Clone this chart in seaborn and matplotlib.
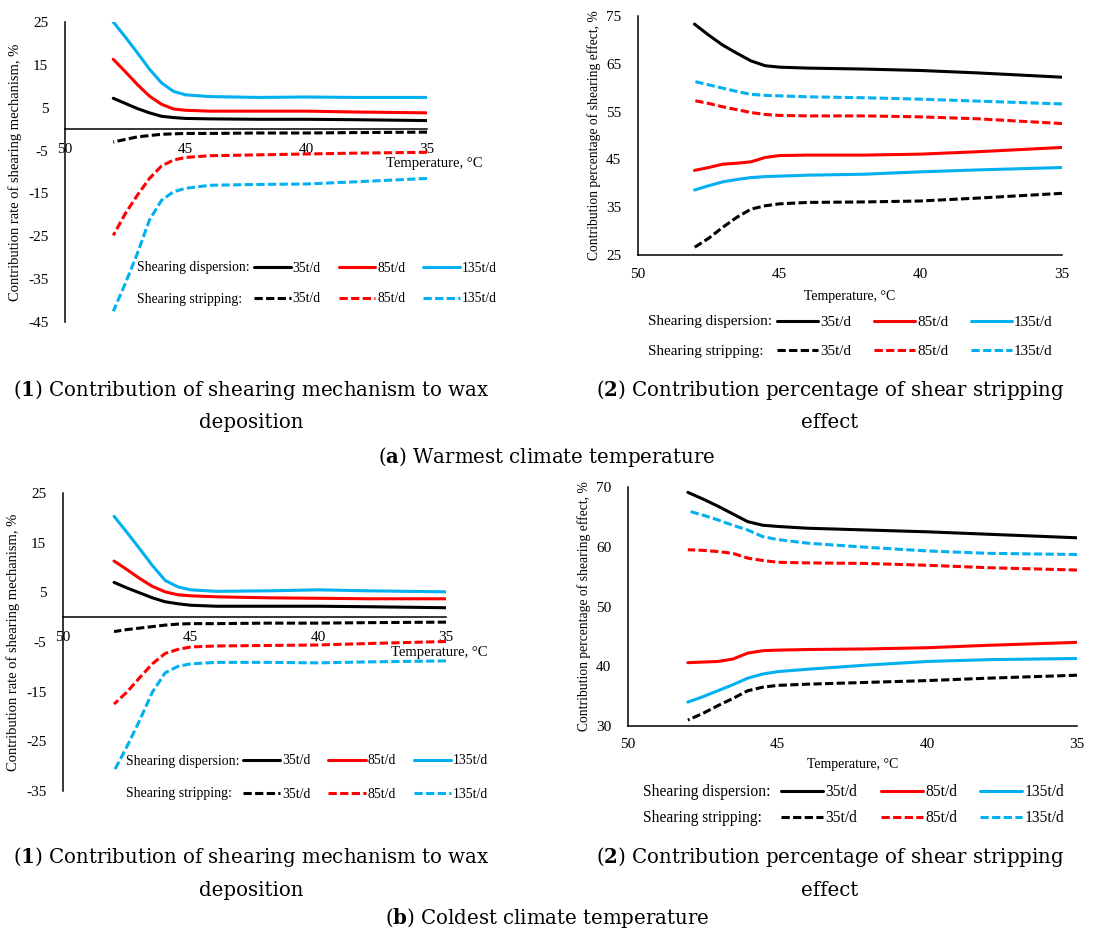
import matplotlib.pyplot as plt
from matplotlib.lines import Line2D
import seaborn as sns

# temperature points, °C (same grid for every curve)
temps = [48, 47.5, 47, 46.5, 46, 45.5, 45, 44, 42, 40, 38, 35]

# (a) warmest climate, panel 1: contribution rate of shearing mechanism, %
a1_disp_35 = [7.2, 6.0, 4.8, 3.8, 3.0, 2.7, 2.5, 2.4, 2.3, 2.3, 2.2, 2.0]
a1_disp_85 = [16.3, 13.4, 10.4, 7.7, 5.8, 4.7, 4.4, 4.2, 4.2, 4.2, 4.0, 3.8]
a1_disp_135 = [25.0, 21.5, 17.8, 14.0, 10.8, 8.8, 8.0, 7.6, 7.4, 7.5, 7.4, 7.4]
a1_strip_35 = [-3.0, -2.4, -1.8, -1.5, -1.2, -1.1, -1.0, -1.0, -0.9, -0.9, -0.8, -0.7]
a1_strip_85 = [-24.8, -19.7, -15.4, -11.5, -8.6, -7.2, -6.6, -6.2, -6.0, -5.8, -5.6, -5.4]
a1_strip_135 = [-42.5, -36.0, -29.0, -21.2, -16.6, -14.6, -13.8, -13.1, -12.9, -12.8, -12.3, -11.5]

# (a) warmest climate, panel 2: contribution percentage of shearing effect, %
a2_disp_35 = [73.3, 71.0, 68.9, 67.2, 65.6, 64.6, 64.3, 64.1, 63.9, 63.6, 63.1, 62.2]
a2_disp_85 = [42.7, 43.3, 44.0, 44.2, 44.5, 45.4, 45.8, 45.9, 45.9, 46.1, 46.6, 47.5]
a2_disp_135 = [38.6, 39.5, 40.3, 40.8, 41.2, 41.4, 41.5, 41.7, 41.9, 42.4, 42.8, 43.3]
a2_strip_35 = [26.6, 28.5, 30.8, 32.9, 34.6, 35.3, 35.7, 36.0, 36.1, 36.3, 36.9, 37.9]
a2_strip_85 = [57.3, 56.7, 56.0, 55.4, 54.8, 54.4, 54.2, 54.1, 54.1, 53.9, 53.5, 52.5]
a2_strip_135 = [61.3, 60.6, 59.9, 59.2, 58.6, 58.4, 58.3, 58.1, 57.9, 57.6, 57.2, 56.6]

# (b) coldest climate, panel 1
b1_disp_35 = [7.0, 5.9, 4.9, 3.9, 3.1, 2.7, 2.4, 2.2, 2.2, 2.2, 2.1, 1.9]
b1_disp_85 = [11.3, 9.6, 7.8, 6.2, 5.1, 4.5, 4.3, 4.1, 3.9, 3.8, 3.7, 3.7]
b1_disp_135 = [20.3, 17.1, 13.8, 10.4, 7.4, 6.1, 5.5, 5.2, 5.3, 5.5, 5.3, 5.1]
b1_strip_35 = [-2.9, -2.5, -2.2, -1.9, -1.6, -1.4, -1.3, -1.3, -1.2, -1.2, -1.1, -1.0]
b1_strip_85 = [-17.5, -15.1, -12.2, -9.4, -7.3, -6.5, -6.0, -5.8, -5.7, -5.6, -5.3, -4.9]
b1_strip_135 = [-31.0, -26.1, -20.8, -15.1, -11.2, -9.9, -9.4, -9.1, -9.1, -9.2, -9.0, -8.8]

# (b) coldest climate, panel 2
b2_disp_35 = [69.1, 68.0, 66.8, 65.5, 64.2, 63.6, 63.4, 63.1, 62.8, 62.5, 62.1, 61.5]
b2_disp_85 = [40.6, 40.7, 40.8, 41.2, 42.2, 42.6, 42.7, 42.8, 42.9, 43.1, 43.5, 44.0]
b2_disp_135 = [34.0, 34.9, 35.9, 36.9, 38.0, 38.7, 39.1, 39.5, 40.2, 40.8, 41.1, 41.3]
b2_strip_35 = [31.0, 32.1, 33.4, 34.6, 35.9, 36.5, 36.8, 37.0, 37.3, 37.6, 38.0, 38.5]
b2_strip_85 = [59.5, 59.4, 59.2, 58.9, 58.1, 57.7, 57.4, 57.3, 57.2, 56.9, 56.5, 56.1]
b2_strip_135 = [66.0, 65.3, 64.5, 63.6, 62.8, 61.7, 61.2, 60.6, 59.9, 59.3, 58.9, 58.7]

flows = ['35t/d', '85t/d', '135t/d']
colors = ['black', '#FF0000', '#00B0F0']
dash = (0, (2.7, 1.1))

sns.set_style('white')
plt.rcParams['font.family'] = ['Liberation Serif', 'DejaVu Serif']
plt.rcParams['text.color'] = 'black'
plt.rcParams['axes.labelcolor'] = 'black'
plt.rcParams['axes.unicode_minus'] = False
plt.rcParams['mathtext.fontset'] = 'custom'
plt.rcParams['mathtext.rm'] = 'DejaVu Serif'
plt.rcParams['mathtext.bf'] = 'DejaVu Serif:bold'

W, H = 1094, 935
fig = plt.figure(figsize=(W / 100, H / 100), dpi=100)


def px_axes(left, top, right, bottom):
    # axes rectangle given in pixels of the reference picture
    return fig.add_axes([left / W, 1 - bottom / H, (right - left) / W, (bottom - top) / H])


def draw_curves(ax, disp, strip):
    for vals, c in zip(disp, colors):
        sns.lineplot(x=temps, y=vals, color=c, lw=2.2, ax=ax)
    for vals, c in zip(strip, colors):
        sns.lineplot(x=temps, y=vals, color=c, lw=2.2, ax=ax, linestyle=dash)


def style_axis(ax, ylim, ymajor, yminor, ylabel, ylabel_size, zero_axis, xpad):
    ax.set_xlim(50, 35)
    ax.set_ylim(*ylim)
    ax.set_xticks([50, 45, 40, 35])
    ax.set_xticks([47.5, 42.5, 37.5], minor=True)
    ax.set_yticks(ymajor)
    ax.set_yticks(yminor, minor=True)
    ax.tick_params(axis='both', which='both', direction='in', length=4, width=1,
                   labelsize=11, colors='black')
    ax.tick_params(axis='x', which='both', pad=xpad)
    ax.tick_params(axis='y', which='both', pad=12)
    for s in ['top', 'right']:
        ax.spines[s].set_visible(False)
    for s in ['left', 'bottom']:
        ax.spines[s].set_color('black')
        ax.spines[s].set_linewidth(1.1)
    if zero_axis:
        ax.spines['bottom'].set_position(('data', 0))
    ax.set_ylabel(ylabel, fontsize=ylabel_size)
    ax.grid(False)


def add_legend(ax, x_text, x_handle, y_row1, y_row2, fs, colsp):
    fig.text(x_text / W, 1 - y_row1 / H, 'Shearing dispersion:', fontsize=fs,
             va='center', ha='left')
    fig.text(x_text / W, 1 - y_row2 / H, 'Shearing stripping:', fontsize=fs,
             va='center', ha='left')
    opts = dict(ncol=3, frameon=False, fontsize=fs, loc='center left',
                bbox_transform=fig.transFigure, borderpad=0, borderaxespad=0,
                handlelength=2.7, handletextpad=0.15, columnspacing=colsp)
    solid = [Line2D([], [], color=c, lw=2.2) for c in colors]
    dashed = [Line2D([], [], color=c, lw=2.2, linestyle=dash) for c in colors]
    leg1 = ax.legend(solid, flows, bbox_to_anchor=(x_handle / W, 1 - y_row1 / H), **opts)
    ax.add_artist(leg1)
    ax.legend(dashed, flows, bbox_to_anchor=(x_handle / W, 1 - y_row2 / H), **opts)


# ---- (a1)
ax = px_axes(65, 22, 427, 322)
draw_curves(ax, [a1_disp_35, a1_disp_85, a1_disp_135],
            [a1_strip_35, a1_strip_85, a1_strip_135])
style_axis(ax, (-45, 25), range(-45, 26, 10), range(-40, 21, 10),
           'Contribution rate of shearing mechanism, %', 10.5, True, 10)
ax.text(1.02, 0.527, 'Temperature, \u00b0C', transform=ax.transAxes,
        ha='center', va='center', fontsize=10.5)
add_legend(ax, 137, 254, 268, 299, 9.8, 1.3)

# ---- (a2)
ax = px_axes(638, 16, 1062, 255)
draw_curves(ax, [a2_disp_35, a2_disp_85, a2_disp_135],
            [a2_strip_35, a2_strip_85, a2_strip_135])
style_axis(ax, (25, 75), range(25, 76, 10), range(30, 71, 10),
           'Contribution percentage of shearing effect, %', 9.8, False, 9)
ax.set_xlabel('Temperature, \u00b0C', fontsize=10)
ax.xaxis.labelpad = 7
add_legend(ax, 648, 777, 322, 351, 10.9, 1.5)

# ---- (b1)
ax = px_axes(63, 493, 446, 791)
draw_curves(ax, [b1_disp_35, b1_disp_85, b1_disp_135],
            [b1_strip_35, b1_strip_85, b1_strip_135])
style_axis(ax, (-35, 25), range(-35, 26, 10), range(-30, 21, 10),
           'Contribution rate of shearing mechanism, %', 10.5, True, 10)
ax.text(0.982, 0.466, 'Temperature, \u00b0C', transform=ax.transAxes,
        ha='center', va='center', fontsize=10.5)
add_legend(ax, 126, 243, 761, 794, 9.9, 1.3)

# ---- (b2)
ax = px_axes(628, 487, 1077, 726)
draw_curves(ax, [b2_disp_35, b2_disp_85, b2_disp_135],
            [b2_strip_35, b2_strip_85, b2_strip_135])
style_axis(ax, (30, 70), range(30, 71, 10), range(35, 66, 10),
           'Contribution percentage of shearing effect, %', 9.8, False, 9)
ax.set_xlabel('Temperature, \u00b0C', fontsize=10)
ax.xaxis.labelpad = 5
add_legend(ax, 643, 781, 792, 818, 11.2, 1.5)

# captions
cap = dict(ha='center', va='center', fontsize=14.2, family='DejaVu Serif')
fig.text(251 / W, 1 - 390 / H, r'($\mathbf{1}$) Contribution of shearing mechanism to wax', **cap)
fig.text(251 / W, 1 - 423 / H, 'deposition', **cap)
fig.text(830 / W, 1 - 390 / H, r'($\mathbf{2}$) Contribution percentage of shear stripping', **cap)
fig.text(830 / W, 1 - 423 / H, 'effect', **cap)
fig.text(547 / W, 1 - 457 / H, r'($\mathbf{a}$) Warmest climate temperature', **cap)

fig.text(251 / W, 1 - 857 / H, r'($\mathbf{1}$) Contribution of shearing mechanism to wax', **cap)
fig.text(251 / W, 1 - 890 / H, 'deposition', **cap)
fig.text(830 / W, 1 - 857 / H, r'($\mathbf{2}$) Contribution percentage of shear stripping', **cap)
fig.text(830 / W, 1 - 890 / H, 'effect', **cap)
fig.text(547 / W, 1 - 918 / H, r'($\mathbf{b}$) Coldest climate temperature', **cap)

fig.savefig('out.png', dpi=100)
